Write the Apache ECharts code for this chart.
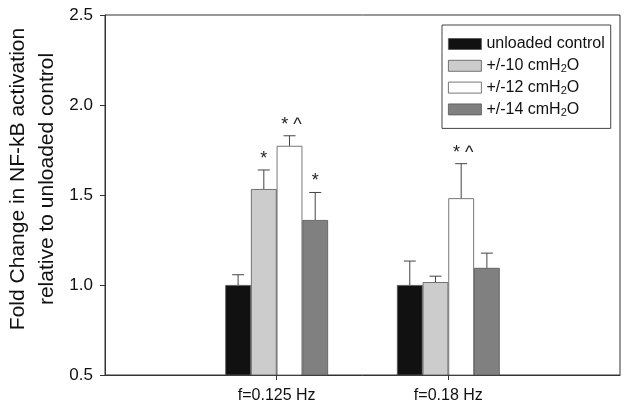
<!DOCTYPE html>
<html><head><meta charset="utf-8">
<script src="https://cdn.jsdelivr.net/npm/echarts@6/dist/echarts.min.js"></script>
<style>html,body{margin:0;padding:0;background:#fff}#c{width:629px;height:412px}</style>
</head><body><div id="c"></div>
<script>
const categories = ['', 'f=0.125 Hz', 'f=0.18 Hz', ''];
const seriesNames = ['unloaded control', '+/-10 cmH2O', '+/-12 cmH2O', '+/-14 cmH2O'];
const yTitleLines = ['Fold Change in NF-kB activation', 'relative to unloaded control'];
const ctrlValues = [1.0, 1.0];
const p10Values = [1.533, 1.016];
const p12Values = [1.773, 1.482];
const p14Values = [1.361, 1.095];
const ctrlErrTop = [1.057, 1.133];
const p10ErrTop = [1.639, 1.049];
const p12ErrTop = [1.829, 1.674];
const p14ErrTop = [1.514, 1.177];
const ctrlMarks = ['', ''];
const p10Marks = ['*', ''];
const p12Marks = ['* ^', '* ^'];
const p14Marks = ['*', ''];
const yTicks = [0.5, 1.0, 1.5, 2.0, 2.5];

const values = [ctrlValues, p10Values, p12Values, p14Values];
const errTops = [ctrlErrTop, p10ErrTop, p12ErrTop, p14ErrTop];
const marks = [ctrlMarks, p10Marks, p12Marks, p14Marks];
const colors = ['#111111', '#cccccc', '#ffffff', '#808080'];
const BW = 25.7;
const FONT = 'Arial, "Liberation Sans", Helvetica, sans-serif';

const chart = echarts.init(document.getElementById('c'));
const series = [];
values.forEach((v, i) => {
  series.push({
    name: seriesNames[i], type: 'bar', barWidth: BW, barGap: '0%',
    data: [null, v[0], v[1], null],
    itemStyle: { color: colors[i], borderColor: '#555', borderWidth: 0.8 },
    silent: true, z: 2
  });
});
values.forEach((v, i) => {
  const d = [];
  for (let k = 0; k < 2; k++) d.push([k + 1, v[k], errTops[i][k]]);
  series.push({
    type: 'custom', silent: true, z: 3,
    data: d,
    renderItem: function (params, api) {
      const off = (i - 1.5) * BW;
      const p0 = api.coord([api.value(0), api.value(1)]);
      const p1 = api.coord([api.value(0), api.value(2)]);
      const x = p0[0] + off;
      const mk = marks[i][params.dataIndex];
      const children = [
        { type: 'line', shape: { x1: x, y1: p0[1], x2: x, y2: p1[1] }, style: { stroke: '#444', lineWidth: 1 } },
        { type: 'line', shape: { x1: x - 6, y1: p1[1], x2: x + 6, y2: p1[1] }, style: { stroke: '#444', lineWidth: 1 } }
      ];
      if (mk) children.push({ type: 'text', style: { text: mk, x: x + (mk.length > 1 ? 2 : 0), y: p1[1] - 2, align: 'center', verticalAlign: 'bottom', font: '18px ' + FONT, fill: '#222' } });
      return { type: 'group', children: children };
    }
  });
});

const legendLabel = n => n.replace('H2O', 'H{sub|2}O');
chart.setOption({
  animation: false,
  grid: { left: 105, top: 15, right: 9, bottom: 37, show: true, borderColor: '#333', borderWidth: 1, backgroundColor: 'transparent' },
  legend: {
    data: seriesNames.map(n => ({ name: n, icon: 'rect' })), orient: 'vertical', left: 442, top: 25,
    itemWidth: 33, itemHeight: 11, itemGap: 3.8,
    padding: [10, 6, 10, 6],
    borderColor: '#444', borderWidth: 1, backgroundColor: '#fff',
    formatter: legendLabel,
    itemStyle: { borderColor: '#555', borderWidth: 0.8 },
    textStyle: { fontSize: 16, lineHeight: 18, color: '#111', fontFamily: FONT,
      rich: { sub: { fontSize: 11, lineHeight: 8, verticalAlign: 'bottom', color: '#111', fontFamily: FONT } } }
  },
  graphic: yTitleLines.map((t, k) => ({
    type: 'text', x: 18 + k * 29, y: 179, rotation: Math.PI / 2,
    style: { text: t, align: 'center', verticalAlign: 'middle', font: '21px ' + FONT, fill: '#111' }
  })),
  xAxis: {
    type: 'category', data: categories, boundaryGap: false,
    axisLine: { lineStyle: { color: '#333' } },
    axisTick: { show: true, length: 5, inside: false, interval: (idx) => idx === 1 || idx === 2, lineStyle: { color: '#333' } },
    axisLabel: { interval: 0, fontSize: 16, color: '#111', margin: 13, fontFamily: FONT },
    splitLine: { show: false }
  },
  yAxis: {
    type: 'value', min: 0.5, max: 2.5, interval: 0.5,
    axisLine: { show: true, lineStyle: { color: '#333' } },
    axisTick: { show: true, length: 5, lineStyle: { color: '#333' } },
    axisLabel: { fontSize: 17, color: '#111', margin: 12, formatter: v => v.toFixed(1), fontFamily: FONT },
    splitLine: { show: false }
  },
  series: series
});
</script></body></html>
